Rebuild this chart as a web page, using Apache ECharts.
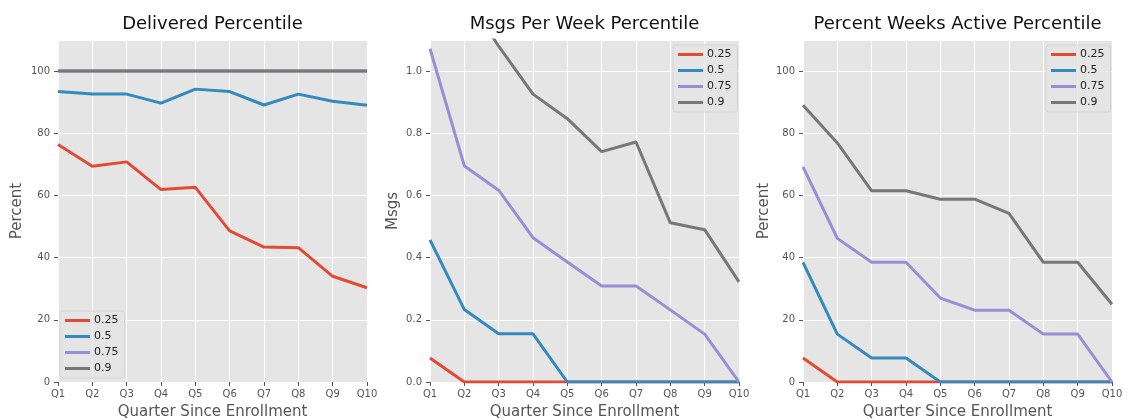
<!DOCTYPE html>
<html>
<head>
<meta charset="utf-8">
<script src="https://cdn.jsdelivr.net/npm/echarts@6/dist/echarts.min.js"></script>
<style>html,body{margin:0;padding:0;background:#fff}#c{width:1129px;height:420px}</style>
</head>
<body>
<div id="c"></div>
<script>
const quarters = ['Q1','Q2','Q3','Q4','Q5','Q6','Q7','Q8','Q9','Q10'];
const seriesNames = ['0.25','0.5','0.75','0.9'];
const titles = ['Delivered Percentile','Msgs Per Week Percentile','Percent Weeks Active Percentile'];
const yNames = ['Percent','Msgs','Percent'];
const xName = 'Quarter Since Enrollment';

const delivered_25 = [76.4, 69.4, 70.8, 61.9, 62.6, 48.6, 43.4, 43.2, 34.0, 30.3];
const delivered_50 = [93.4, 92.6, 92.6, 89.7, 94.2, 93.4, 89.1, 92.6, 90.3, 89.0];
const delivered_75 = [100, 100, 100, 100, 100, 100, 100, 100, 100, 100];
const delivered_90 = [100, 100, 100, 100, 100, 100, 100, 100, 100, 100];

const msgs_25 = [0.077, 0, 0, 0, 0, 0, 0, 0, 0, 0];
const msgs_50 = [0.457, 0.233, 0.155, 0.155, 0, 0, 0, 0, 0, 0];
const msgs_75 = [1.072, 0.695, 0.617, 0.464, 0.386, 0.309, 0.309, 0.232, 0.154, 0];
const msgs_90 = [1.55, 1.25, 1.08, 0.926, 0.847, 0.741, 0.772, 0.512, 0.49, 0.322];

const active_25 = [7.7, 0, 0, 0, 0, 0, 0, 0, 0, 0];
const active_50 = [38.5, 15.4, 7.7, 7.7, 0, 0, 0, 0, 0, 0];
const active_75 = [69.2, 46.2, 38.5, 38.5, 27.0, 23.1, 23.1, 15.4, 15.4, 0];
const active_90 = [89.0, 76.9, 61.5, 61.5, 58.8, 58.8, 54.2, 38.5, 38.5, 25.0];

const panels = [
  [delivered_25, delivered_50, delivered_75, delivered_90],
  [msgs_25, msgs_50, msgs_75, msgs_90],
  [active_25, active_50, active_75, active_90]
];
const yMax = [110, 1.1, 110];
const yInterval = [20, 0.2, 20];
const colors = ['#E24A33', '#348ABD', '#988ED5', '#777777'];
const gridLefts = [58, 430, 803];
const gridWidth = 309;
const nameGaps = [33, 29, 30.5];
const legendPos = [{left: 60, top: 311}, {left: 673, top: 45}, {left: 1046, top: 45}];
const FONT = 'DejaVu Sans';

const grids = [], xAxes = [], yAxes = [], series = [], titleArr = [], legends = [];
for (let p = 0; p < 3; p++) {
  grids.push({left: gridLefts[p], top: 40, width: gridWidth, height: 342, show: true,
    backgroundColor: '#E5E5E5', borderWidth: 0, containLabel: false, outerBoundsMode: 'none'});
  titleArr.push({text: titles[p], left: gridLefts[p] + gridWidth / 2, top: 15, textAlign: 'center',
    padding: 0, textStyle: {fontFamily: FONT, fontSize: 18, fontWeight: 'normal', color: '#111'}});
  xAxes.push({type: 'category', gridIndex: p, data: quarters, boundaryGap: false,
    name: xName, nameLocation: 'middle', nameGap: 23,
    nameTextStyle: {fontFamily: FONT, fontSize: 15, color: '#555'},
    axisLine: {show: false},
    axisTick: {show: true, length: 4, lineStyle: {color: '#555'}},
    axisLabel: {fontFamily: FONT, fontSize: 10, color: '#555', margin: 7, interval: 0},
    splitLine: {show: true, lineStyle: {color: '#fff', width: 1}}});
  const mx = yMax[p];
  const isMsgs = p === 1;
  yAxes.push({type: 'value', gridIndex: p, min: 0, max: mx, interval: yInterval[p],
    name: yNames[p], nameLocation: 'middle', nameGap: nameGaps[p],
    nameTextStyle: {fontFamily: FONT, fontSize: 15, color: '#555'},
    axisLine: {show: false},
    axisTick: {show: true, length: 4, lineStyle: {color: '#555'}},
    axisLabel: {fontFamily: FONT, fontSize: 10, color: '#555', margin: 8, showMaxLabel: false,
      formatter: v => (v > mx * 0.96) ? '' : (isMsgs ? v.toFixed(1) : String(Math.round(v)))},
    splitLine: {show: true, lineStyle: {color: '#fff', width: 1}}});
  for (let s = 0; s < 4; s++) {
    series.push({type: 'line', name: seriesNames[s], xAxisIndex: p, yAxisIndex: p,
      data: panels[p][s], symbol: 'none', clip: true,
      lineStyle: {color: colors[s], width: 3}, itemStyle: {color: colors[s]},
      emphasis: {disabled: true}});
  }
  legends.push(Object.assign({orient: 'vertical', data: seriesNames, icon: 'rect',
    itemWidth: 25, itemHeight: 3, itemGap: 5, padding: [4, 6, 4, 5],
    backgroundColor: 'rgba(229,229,229,0.8)', borderColor: '#d4d4d4', borderWidth: 1, borderRadius: 3,
    textStyle: {fontFamily: FONT, fontSize: 11, color: '#222', padding: [0,0,0,-1], lineHeight: 11},
    selectedMode: false}, legendPos[p]));
}

const chart = echarts.init(document.getElementById('c'), null, {renderer: 'canvas'});
chart.setOption({
  animation: false,
  color: colors,
  title: titleArr,
  legend: legends,
  grid: grids,
  xAxis: xAxes,
  yAxis: yAxes,
  series: series
});
</script>
</body>
</html>
